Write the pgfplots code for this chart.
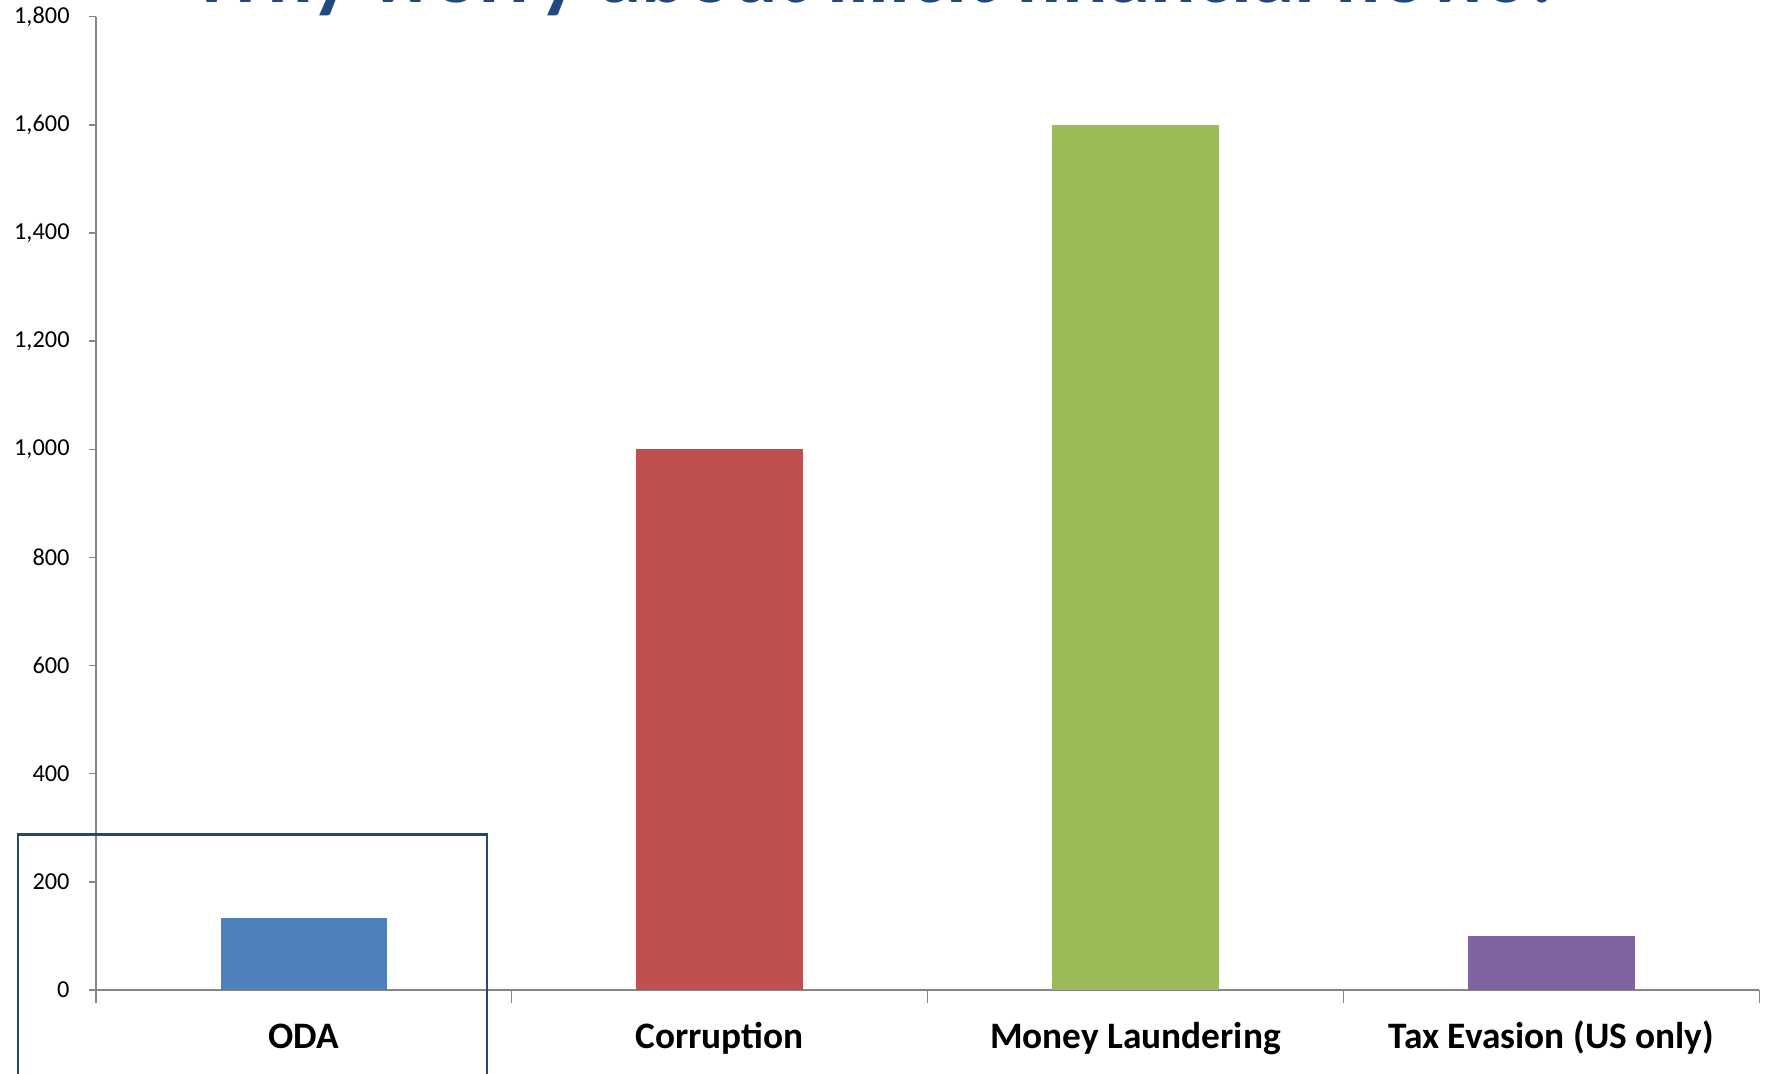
\documentclass[border=0pt]{standalone}
\usepackage{pgfplots}
\pgfplotsset{compat=1.18}
\usepackage{fontspec}
\setmainfont{Carlito}
\definecolor{odablue}{HTML}{4F81BD}
\definecolor{corrred}{HTML}{C0504D}
\definecolor{mlgreen}{HTML}{9BBB59}
\definecolor{taxpurple}{HTML}{8064A2}
\definecolor{titleblue}{HTML}{1F497D}
\definecolor{axisgray}{HTML}{868686}
\begin{document}
\begin{tikzpicture}
% page = 1766 x 1073 px, 1 px = 0.3pt
\useasboundingbox (0,0) rectangle (529.8pt,-321.9pt);
\clip (0,0) rectangle (529.8pt,-321.9pt);
% slide title, cut off at the top edge as in the source
\node[anchor=base, inner sep=0pt, text=titleblue, font=\fontsize{25.5}{30}\selectfont\bfseries]
  at (263pt,-0.7pt) {Why worry about illicit financial flows?};
\begin{axis}[
    at={(28.77pt,-297pt)}, anchor=south west,
    scale only axis,
    width=499pt, height=292pt,
    xmin=-0.5, xmax=3.5,
    ymin=0, ymax=1800,
    axis x line*=bottom,
    axis y line*=left,
    axis line style={axisgray, line width=0.45pt},
    tick align=outside,
    major tick length=2.1pt,
    minor tick length=3.8pt,
    tick style={axisgray, line width=0.45pt},
    xtick={0,1,2,3},
    xticklabels={ODA, Corruption, Money Laundering, Tax Evasion (US only)},
    major x tick style={draw=none},
    minor xtick={-0.5,0.5,1.5,2.5,3.5},
    ytick={0,200,...,1800},
    /pgf/number format/assume math mode=true,
    /pgf/number format/1000 sep={,},
    yticklabel style={font=\fontsize{7.3}{8}\selectfont, anchor=east, inner sep=0pt, xshift=-5.6pt},
    xticklabel style={font=\fontsize{11.2}{13}\selectfont\bfseries, anchor=base, inner sep=0pt, yshift=-15.4pt},
    clip=false,
]
\addplot[ybar, bar shift=0pt, bar width=0.4, fill=odablue, draw=none] coordinates {(0,134)};
\addplot[ybar, bar shift=0pt, bar width=0.4, fill=corrred, draw=none] coordinates {(1,1000)};
\addplot[ybar, bar shift=0pt, bar width=0.4, fill=mlgreen, draw=none] coordinates {(2,1600)};
\addplot[ybar, bar shift=0pt, bar width=0.4, fill=taxpurple, draw=none] coordinates {(3,100)};
\end{axis}
% highlight box round ODA
\draw[titleblue, line width=0.8pt] (5.4pt,-340pt) -- (5.4pt,-250.35pt) -- (146.1pt,-250.35pt) -- (146.1pt,-340pt);
\end{tikzpicture}
\end{document}
